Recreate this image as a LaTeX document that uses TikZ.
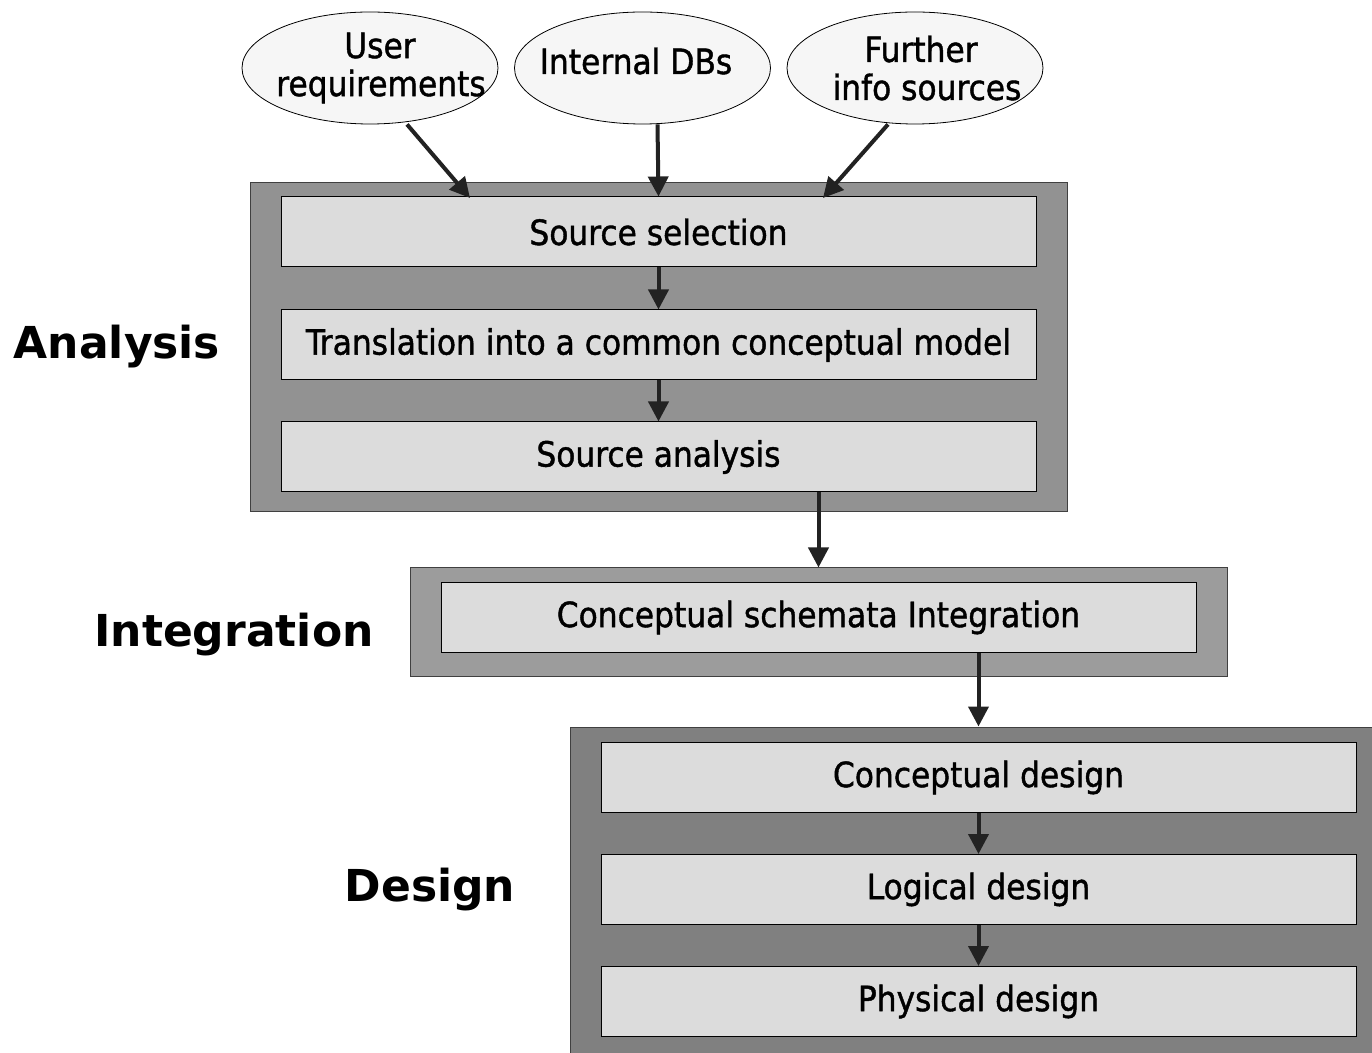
\documentclass[tikz,border=0pt]{standalone}
\usepackage{fontspec}
\setmainfont{DejaVu Sans Condensed}[FakeBold=1.2]
\newfontfamily\phasefont{DejaVu Sans}
\usetikzlibrary{shapes.geometric,arrows.meta}
\definecolor{stepfill}{HTML}{DCDCDC}
\definecolor{anafill}{HTML}{929292}
\definecolor{intfill}{HTML}{9C9C9C}
\definecolor{desfill}{HTML}{808080}
\definecolor{srcfill}{HTML}{F6F6F6}
\definecolor{arrowcol}{HTML}{222222}
% zero-width centred line, nudged right by #1
\newcommand{\zw}[2]{\makebox[0pt]{\hspace{#1}#2}}
\tikzset{
  stepbox/.style={draw=black, line width=0.5pt, fill=stepfill, minimum width=377.5pt,
    minimum height=35pt, inner sep=0pt, font=\fontsize{17.4}{19}\selectfont},
  phasebox/.style={draw=black!75, line width=0.5pt, inner sep=0pt},
  source/.style={ellipse, draw=black, line width=0.4pt, fill=srcfill, minimum width=128pt,
    minimum height=56pt, inner sep=0pt, align=center, font=\fontsize{17.4}{19}\selectfont},
  phase/.style={font=\phasefont\bfseries\fontsize{22}{26}\selectfont, inner sep=0pt},
  arr/.style={draw=arrowcol, line width=2pt, -{Triangle[length=10pt,width=10pt]}}
}
\begin{document}
\begin{tikzpicture}[x=0.5pt,y=-0.5pt]
\useasboundingbox (0,0) rectangle (1372,1053);
\begin{scope}
\clip (0,0) rectangle (1372,1053);
% phase frames
\node[phasebox, fill=anafill, minimum width=408.5pt, minimum height=164.5pt] (anaframe) at (658.5,347.5) {};
\node[phasebox, fill=intfill, minimum width=408.5pt, minimum height=54.5pt] (intframe) at (818.5,622.5) {};
\node[phasebox, fill=desfill, minimum width=408.5pt, minimum height=170pt] (desframe) at (978.5,897) {};
\end{scope}

% analysis steps
\node[stepbox] (ss) at (658.5,232) {Source selection};
\node[stepbox] (tr) at (658.5,345) {Translation into a common conceptual model};
\node[stepbox] (sa) at (658.5,457) {Source analysis};
% integration step
\node[stepbox] (ci) at (818.5,617.5) {Conceptual schemata Integration};
% design steps
\node[stepbox] (cd) at (978.5,777.5) {Conceptual design};
\node[stepbox] (ld) at (978.5,889.5) {Logical design};
\node[stepbox] (pd) at (978.5,1001.5) {Physical design};

% information sources
\node[source] (ur) at (370,68) {\zw{10pt}{User}\\\zw{11pt}{requirements}};
\node[source] (idb) at (642.5,68) {};
\node[font=\fontsize{17.4}{19}\selectfont, inner sep=0pt] (idbtext) at (636,61) {Internal DBs};
\node[source] (fis) at (915,68) {\zw{6pt}{Further}\\\zw{12pt}{info sources}};

% phase labels
\node[phase] (lana) at (117,347) {Analysis};
\node[phase] (lint) at (234,635) {Integration};
\node[phase] (ldes) at (430,890) {Design};

% connectors
\coordinate (urin) at (470,198);
\coordinate (fisin) at (823,198);
\draw[arr] ([xshift=18.5pt]ur.south) -- (urin);
\draw[arr] ([xshift=7.5pt]idb.south) -- (ss.north);
\draw[arr] ([xshift=-13.5pt]fis.south) -- (fisin);
\draw[arr] (ss) -- (tr);
\draw[arr] (tr) -- (sa);
\draw[arr] (sa.south -| ci.north) -- (intframe.north -| ci.north);
\draw[arr] (ci.south -| cd.north) -- (desframe.north -| cd.north);
\draw[arr] (cd) -- (ld);
\draw[arr] (ld) -- (pd);
\end{tikzpicture}
\end{document}
